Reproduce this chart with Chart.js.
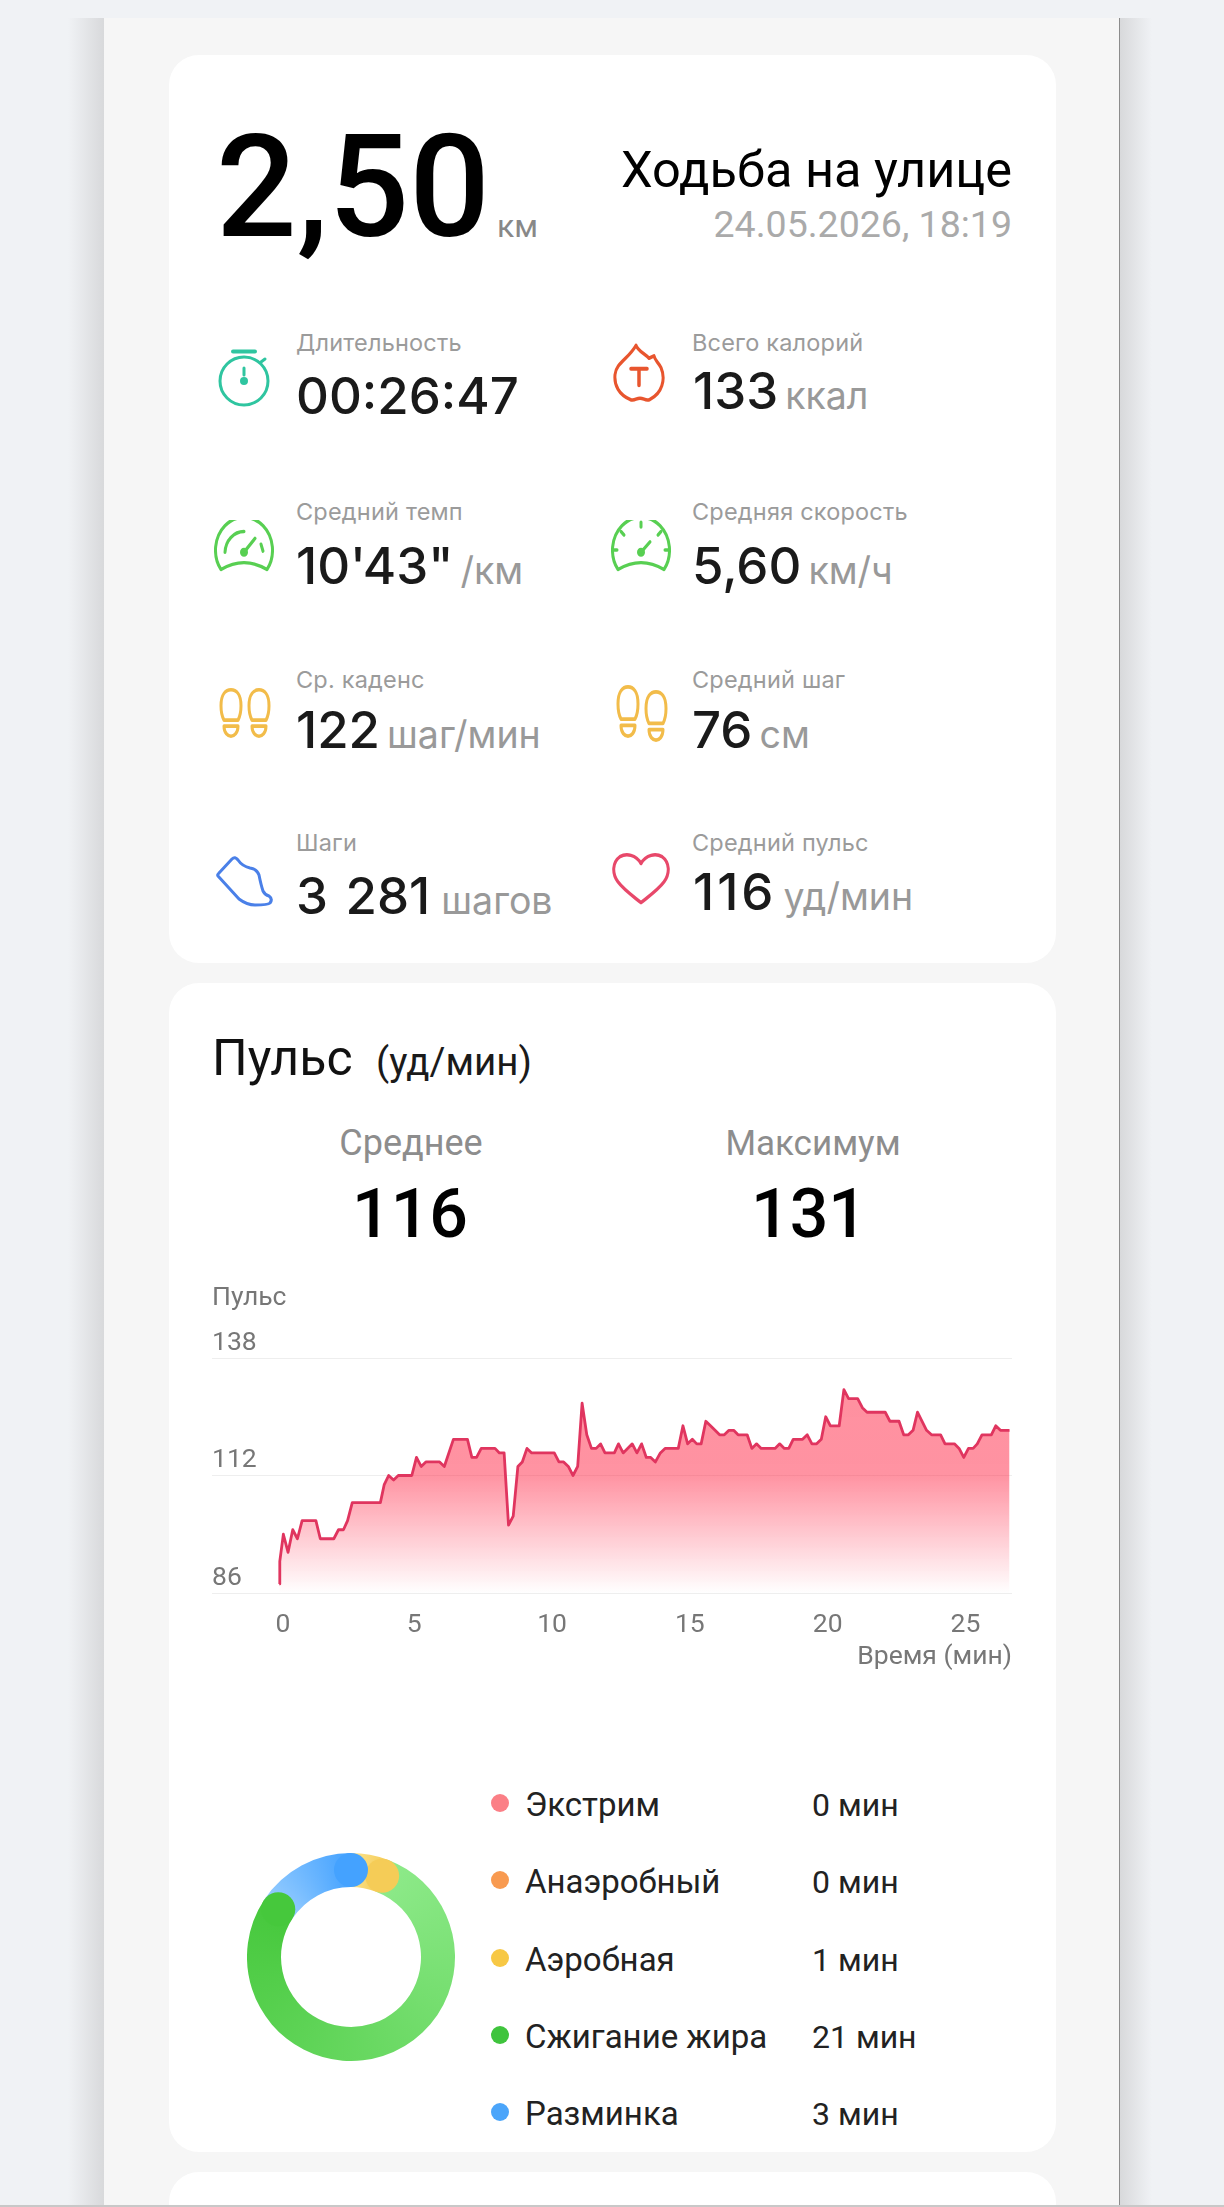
<!DOCTYPE html>
<html lang="ru">
<head>
<meta charset="UTF-8">
<title>Ходьба на улице</title>
<script src="https://cdn.jsdelivr.net/npm/chart.js"></script>
<style>
  html, body { margin: 0; padding: 0; }
  body { width: 1224px; height: 2207px; background: #f0f2f5; position: relative; overflow: hidden; font-family: Roboto, sans-serif; }
  .abs, .t, .lbl, .val, canvas, svg { position: absolute; }
  .t { line-height: 1; white-space: nowrap; }
  .c { width: 200px; text-align: center; }
  .card { position: absolute; left: 169px; width: 887px; background: #fff; border-radius: 30px; }
  .lbl { font: 400 23.5px/1 Inter, sans-serif; color: #9b9b9b; white-space: nowrap; letter-spacing: .2px; }
  .val { font: 500 51px/1 Inter, sans-serif; color: #1a1a1a; white-space: nowrap; word-spacing: 4px; }
  .unit { font-size: 37.5px; font-weight: 400; color: #999; margin-left: 7px; letter-spacing: 0; }
  svg { fill: none; stroke-width: 3; stroke-linecap: round; stroke-linejoin: round; }
</style>
</head>
<body>
<div class="abs" style="left:68px;top:18px;width:36px;height:2189px;background:linear-gradient(90deg,#f0f2f5,#d8d9db)"></div>
<div class="abs" style="left:1120px;top:18px;width:32px;height:2189px;background:linear-gradient(270deg,#f0f2f5,#d8d9db)"></div>
<div class="abs" style="left:104px;top:18px;width:1015px;height:2189px;background:#f6f6f6;border-right:1px solid #8c8c8c"></div>

<div class="card" style="top:55px;height:908px"></div>
<div class="card" style="top:983px;height:1169px"></div>
<div class="card" style="top:2172px;height:80px"></div>
<div class="abs" style="left:0;top:2205px;width:1224px;height:2px;background:#c8c8c8"></div>

<!-- summary -->
<div class="t" style="left:216px;top:117px;font-size:142px;font-weight:500;color:#000">2,50</div>
<div class="t" style="left:497px;top:210px;font-size:32px;color:#888">км</div>
<div class="t" style="right:212px;top:145px;font-size:50.5px;color:#000">Ходьба на улице</div>
<div class="t" style="right:212px;top:206px;font-size:37.500px;color:#aaa">24.05.2026, 18:19</div>

<div class="lbl" style="left:296px;top:331px">Длительность</div>
<div class="val" style="left:296px;top:370px">00:26:47</div>
<div class="lbl" style="left:692px;top:331px">Всего калорий</div>
<div class="val" style="left:693px;top:365px">133<span class="unit">ккал</span></div>

<div class="lbl" style="left:296px;top:500px">Средний темп</div>
<div class="val" style="left:296px;top:540px">10'43"<span class="unit">/км</span></div>
<div class="lbl" style="left:692px;top:500px">Средняя скорость</div>
<div class="val" style="left:692px;top:540px">5,60<span class="unit">км/ч</span></div>

<div class="lbl" style="left:296px;top:668px">Ср. каденс</div>
<div class="val" style="left:296px;top:704px">122<span class="unit">шаг/мин</span></div>
<div class="lbl" style="left:692px;top:668px">Средний шаг</div>
<div class="val" style="left:692px;top:704px">76<span class="unit">см</span></div>

<div class="lbl" style="left:296px;top:831px">Шаги</div>
<div class="val" style="left:296px;top:870px">3 281<span class="unit" style="margin-left:11px">шагов</span></div>
<div class="lbl" style="left:692px;top:831px">Средний пульс</div>
<div class="val" style="left:693px;top:866px;letter-spacing:3px">116<span class="unit">уд/мин</span></div>

<!-- icons -->
<svg style="left:216px;top:347px" width="56" height="62" viewBox="0 0 56 60" stroke="#2fc5a0">
  <path d="M17 3.500H39" stroke-width="4"/><circle cx="28" cy="33" r="24"/><path d="M28 20V27"/><circle cx="28" cy="33" r="2.500" fill="#2fc5a0"/><path d="M45 14L49 11"/>
</svg>
<svg style="left:214px;top:520px" width="60" height="53" viewBox="0 0 60 46" preserveAspectRatio="none" stroke="#58cf52">
  <path d="M7 43A28.500 28.500 0 1 1 53 43Q30 31 7 43Z"/><path d="M11 28A19 19 0 0 1 30 10"/><path d="M30 28L41 16"/><path d="M47 21L49 27"/><circle cx="30" cy="28" r="2.500" fill="#58cf52"/>
</svg>
<svg style="left:611px;top:520px" width="60" height="53" viewBox="0 0 60 46" preserveAspectRatio="none" stroke="#58cf52">
  <path d="M7 43A28.500 28.500 0 1 1 53 43Q30 31 7 43Z"/><path d="M30 2V6M10 10L13 13M50 10L47 13M2 26H6M54 26H58"/><path d="M30 28L39 19"/><circle cx="30" cy="28" r="2.500" fill="#58cf52"/>
</svg>
<svg style="left:219px;top:688px" width="24" height="50" viewBox="0 0 24 42" preserveAspectRatio="none" stroke="#f2bc4a"><path d="M2 15C2 5 7 1.500 12 1.500C17 1.500 22 5 22 15C22 20 21 24 19 27H5C3 24 2 20 2 15Z"/><path d="M5 32H19C19 38 15 40.500 12 40.500C9 40.500 5 38 5 32Z"/></svg>
<svg style="left:247px;top:688px" width="24" height="50" viewBox="0 0 24 42" preserveAspectRatio="none" stroke="#f2bc4a"><path d="M2 15C2 5 7 1.500 12 1.500C17 1.500 22 5 22 15C22 20 21 24 19 27H5C3 24 2 20 2 15Z"/><path d="M5 32H19C19 38 15 40.500 12 40.500C9 40.500 5 38 5 32Z"/></svg>
<svg style="left:616px;top:685px" width="24" height="53" viewBox="0 0 24 42" preserveAspectRatio="none" stroke="#f2bc4a"><path d="M2 15C2 5 7 1.500 12 1.500C17 1.500 22 5 22 15C22 20 21 24 19 27H5C3 24 2 20 2 15Z"/><path d="M5 32H19C19 38 15 40.500 12 40.500C9 40.500 5 38 5 32Z"/></svg>
<svg style="left:644px;top:690px" width="24" height="52" viewBox="0 0 24 42" preserveAspectRatio="none" stroke="#f2bc4a"><path d="M2 15C2 5 7 1.500 12 1.500C17 1.500 22 5 22 15C22 20 21 24 19 27H5C3 24 2 20 2 15Z"/><path d="M5 32H19C19 38 15 40.500 12 40.500C9 40.500 5 38 5 32Z"/></svg>
<svg style="left:215px;top:855px" width="60" height="52" viewBox="0 0 60 52" stroke="#4a80e8"><path d="M3 21Q2 20 4 18L17 4Q20 1 23 5Q27 11 35 13Q42 14 44 20Q46 30 48 36Q50 40 54 41Q58 44 55 48Q53 50 40 50Q32 50 24 44Z"/></svg>
<svg style="left:613px;top:343px" width="54" height="61" viewBox="0 0 54 52" preserveAspectRatio="none" stroke="#e8552e">
  <path d="M23 2C25 7 32 9 36 13L41 11C42 15 45 16 48 21C53 31 49 43 37 48C33 50 31 47 27 47C23 47 21 50 17 48C6 44 1 36 2 27C3 17 16 13 23 2Z"/><path d="M18 22H34M26 22V36" stroke-width="3.500"/>
</svg>
<svg style="left:611px;top:852px" width="60" height="53" viewBox="0 0 60 46" preserveAspectRatio="none" stroke="#e8486a"><path d="M30 10C25 2 15 1 9 4C1 9 1 19 7 26C13 33 23 39 30 44C37 39 47 33 53 26C59 19 59 9 51 4C45 1 35 2 30 10Z"/></svg>

<!-- pulse -->
<div class="t" style="left:212px;top:1033px;font-size:50px;color:#111">Пульс</div>
<div class="t" style="left:376px;top:1043px;font-size:38.5px;color:#1a1a1a">(уд/мин)</div>
<div class="t c" style="left:311px;top:1125px;font-size:36px;color:#8d8d8d">Среднее</div>
<div class="t c" style="left:713px;top:1126px;font-size:35px;color:#8d8d8d">Максимум</div>
<div class="t c" style="left:310px;top:1180px;font-size:68px;font-weight:500;color:#000">116</div>
<div class="t c" style="left:709px;top:1180px;font-size:68px;font-weight:500;color:#000">131</div>

<canvas id="pulseChart" width="800" height="410" style="left:212px;top:1270px"></canvas>
<canvas id="zoneChart" width="208" height="208" style="left:247px;top:1853px"></canvas>
<div id="zoneLegend"></div>

<script>
// heart rate, one corner per pair
const pulseMinutes = [0.10, 0.12, 0.25, 0.42, 0.59, 0.76, 0.93, 1.43, 1.59, 2.08, 2.25, 2.43, 2.58, 2.75, 3.77, 3.91, 4.07, 4.25, 4.42, 4.91, 5.08, 5.25, 5.42, 5.92, 6.09, 6.42, 6.93, 7.09, 7.26, 7.43, 7.93, 8.09, 8.26, 8.42, 8.59, 8.76, 8.92, 9.09, 9.26, 10.08, 10.25, 10.42, 10.59, 10.76, 10.93, 11.09, 11.26, 11.43, 11.60, 11.76, 11.92, 12.26, 12.41, 12.58, 12.91, 13.08, 13.25, 13.42, 13.58, 13.75, 13.93, 14.10, 14.58, 14.75, 14.92, 15.09, 15.25, 15.41, 15.58, 15.75, 16.08, 16.25, 16.42, 16.59, 16.75, 17.08, 17.25, 17.42, 17.59, 18.09, 18.26, 18.43, 18.59, 18.75, 19.09, 19.26, 19.43, 19.60, 19.77, 19.93, 20.10, 20.42, 20.59, 20.76, 21.09, 21.26, 21.43, 22.09, 22.26, 22.59, 22.76, 22.93, 23.10, 23.26, 23.59, 23.77, 24.10, 24.26, 24.60, 24.77, 24.94, 25.11, 25.28, 25.43, 25.60, 25.94, 26.10, 26.27, 26.60];
const pulseValues = [88, 93, 99, 95, 100, 98, 102, 102, 98, 98, 100, 100, 102, 106, 106, 110, 112, 111, 112, 112, 116, 114, 115, 115, 114, 120, 120, 116, 116, 118, 118, 117, 117, 101, 103, 114, 115, 118, 117, 117, 115, 115, 114, 112, 114, 128, 121, 118, 118, 119, 117, 117, 119, 117, 119, 117, 119, 116, 116, 115, 117, 118, 118, 123, 119, 120, 119, 119, 124, 123, 121, 121, 122, 122, 121, 121, 118, 119, 118, 118, 119, 118, 118, 120, 120, 121, 119, 119, 120, 125, 123, 123, 131, 129, 129, 127, 126, 126, 124, 124, 121, 121, 122, 126, 122, 121, 121, 119, 119, 118, 116, 118, 118, 119, 121, 121, 123, 122, 122];
const xTickValues = [0, 5, 10, 15, 20, 25];
const yTickValues = [86, 112, 138];

// heart rate zones
const zoneNames = ['Экстрим', 'Анаэробный', 'Аэробная', 'Сжигание жира', 'Разминка'];
const zoneLabels = ['0 мин', '0 мин', '1 мин', '21 мин', '3 мин'];
const zoneArcMinutes = [0, 0, 1.56, 21, 4.22];
const zoneColors = ['#fb7f86', '#f89a50', '#f7c845', '#3fc43d', '#4ba5fa'];
const zoneStartColors = ['#fb7f86', '#f89a50', '#fbe38e', '#8eea8a', '#97cdff'];
const zoneEndColors = ['#fb7f86', '#f89a50', '#f5cc57', '#46c83c', '#44a2ff'];

// legend rows
const legend = document.getElementById('zoneLegend');
const rowBaselines = [1816, 1893, 1971, 2048, 2125];
zoneNames.forEach((name, i) => {
  const base = rowBaselines[i];
  legend.innerHTML +=
    `<div class="abs" style="left:491px;top:${base - 22}px;width:18px;height:18px;border-radius:50%;background:${zoneColors[i]}"></div>` +
    `<div class="t" style="left:525px;top:${base - 28}px;font-size:33px;color:#222">${name}</div>` +
    `<div class="t" style="left:812px;top:${base - 27}px;font-size:32px;color:#222">${zoneLabels[i]}</div>`;
});

function pulseFill(context) {
  const { ctx, chartArea } = context.chart;
  if (!chartArea) return 'rgba(255,40,70,.5)';
  const g = ctx.createLinearGradient(0, chartArea.top, 0, chartArea.bottom);
  g.addColorStop(0, 'rgba(255,40,70,.52)');
  g.addColorStop(0.5, 'rgba(255,40,70,.5)');
  g.addColorStop(1, 'rgba(255,40,70,0)');
  return g;
}

new Chart(document.getElementById('pulseChart'), {
  type: 'line',
  data: {
    datasets: [{
      data: pulseMinutes.map((m, i) => ({ x: m, y: pulseValues[i] })),
      borderColor: '#e0355f',
      borderWidth: 2.8,
      borderJoinStyle: 'round',
      backgroundColor: pulseFill,
      fill: 'start',
      pointRadius: 0,
      tension: 0
    }]
  },
  options: {
    responsive: false,
    animation: false,
    layout: { autoPadding: false },
    plugins: {
      legend: { display: false },
      tooltip: { enabled: false },
      title: {
        display: true,
        text: 'Пульс',
        align: 'start',
        color: '#777',
        font: { family: 'Roboto', size: 26.5, weight: 'normal' },
        padding: { top: 12, bottom: 44.2 }
      }
    },
    scales: {
      x: {
        type: 'linear',
        min: -2.34,
        max: 26.69,
        afterBuildTicks: scale => { scale.ticks = xTickValues.map(v => ({ value: v })); },
        afterFit: scale => { scale.height = 87; },
        grid: { display: false },
        border: { display: false },
        ticks: {
          color: '#777',
          font: { family: 'Roboto', size: 26.5 },
          padding: 8.5,
          maxRotation: 0,
          autoSkip: false,
          // the 0 sits a little right of its position on the phone screen
          callback: v => (v === 0 ? '\u00a0\u00a00' : String(v))
        },
        title: {
          display: true,
          text: 'Время (мин)',
          align: 'end',
          color: '#777',
          font: { family: 'Roboto', size: 26.5 },
          padding: { top: 0, bottom: 7.1 }
        }
      },
      y: {
        min: 86,
        max: 138,
        afterBuildTicks: scale => { scale.ticks = yTickValues.map(v => ({ value: v })); },
        grid: { color: '#eeeeee', drawTicks: false },
        border: { display: false },
        ticks: { mirror: true, padding: 0, labelOffset: -15, color: '#777', font: { family: 'Roboto', size: 26.5 } }
      }
    }
  }
});

// one conic gradient shared by all the arcs, hard step between zones
function zoneFill(context) {
  const { ctx, chartArea } = context.chart;
  if (!chartArea) return zoneColors[context.dataIndex];
  const cx = (chartArea.left + chartArea.right) / 2;
  const cy = (chartArea.top + chartArea.bottom) / 2;
  const g = ctx.createConicGradient(-Math.PI / 2, cx, cy);
  const total = zoneArcMinutes.reduce((a, b) => a + b, 0);
  let run = 0;
  zoneArcMinutes.forEach((v, i) => {
    if (!v) return;
    g.addColorStop(run / total, zoneStartColors[i]);
    run += v;
    g.addColorStop(Math.min(run / total, 1), zoneEndColors[i]);
  });
  return g;
}

// round end of each arc, drawn over the start of the next one
const roundEnds = {
  id: 'roundEnds',
  afterDatasetsDraw(chart) {
    const { ctx } = chart;
    chart.getDatasetMeta(0).data.forEach((arc, i) => {
      if (!zoneArcMinutes[i]) return;
      const p = arc.getProps(['x', 'y', 'endAngle', 'innerRadius', 'outerRadius']);
      const r = (p.innerRadius + p.outerRadius) / 2;
      ctx.beginPath();
      ctx.arc(p.x + r * Math.cos(p.endAngle), p.y + r * Math.sin(p.endAngle), (p.outerRadius - p.innerRadius) / 2, 0, Math.PI * 2);
      ctx.fillStyle = zoneEndColors[i];
      ctx.fill();
    });
  }
};

new Chart(document.getElementById('zoneChart'), {
  type: 'doughnut',
  data: {
    labels: zoneNames,
    datasets: [{ data: zoneArcMinutes, backgroundColor: zoneFill, borderWidth: 0 }]
  },
  options: {
    responsive: false,
    animation: false,
    cutout: '67.3%',
    plugins: { legend: { display: false }, tooltip: { enabled: false } }
  },
  plugins: [roundEnds]
});
</script>
</body>
</html>
